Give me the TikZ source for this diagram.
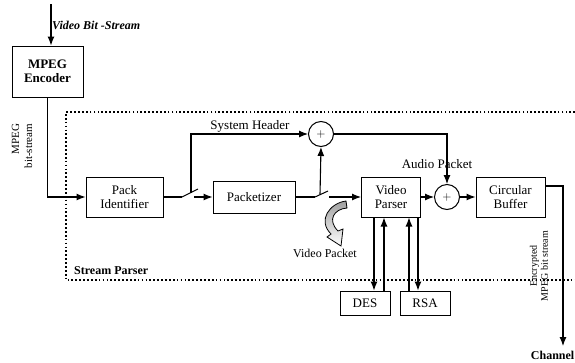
\documentclass[tikz,border=0pt]{standalone}
\usepackage{fontspec}
\setmainfont{Liberation Serif}
\usetikzlibrary{arrows.meta,calc,positioning}
\tikzset{
  block/.style={rectangle,draw,line width=1pt,font=\fontsize{13}{14}\selectfont,align=center,inner sep=1pt},
  adder/.style={circle,draw,line width=1pt,minimum size=25pt,inner sep=0pt,font=\fontsize{12}{12}\selectfont},
  wire/.style={draw,line width=1.1pt},
  flow/.style={wire,-{Latex[length=9pt,width=7pt]}},
  arm/.style={draw,line width=1pt},
  dotframe/.style={draw,line width=1.9pt,dash pattern=on 1.7pt off 2.2pt},
  lbl/.style={font=\fontsize{13}{14}\selectfont,inner sep=1pt},
  sidelbl/.style={font=\fontsize{11}{13}\selectfont,inner sep=1pt,rotate=90},
}
\begin{document}
\begin{tikzpicture}[x=1pt,y=-1pt]
  \useasboundingbox (0,0) rectangle (575,362);
  % stream parser frame
  \draw[dotframe] (575,112) -- (66,112) -- (66,280) -- (575,280);
  \node[font=\fontsize{12}{13}\selectfont\bfseries,anchor=west,inner sep=0pt] (spl) at (74,271) {Stream Parser};
  % blocks
  \node[block,font=\fontsize{13}{14}\selectfont\bfseries,minimum width=71pt,minimum height=51pt] (enc) at (47.5,71.5) {MPEG\\Encoder};
  \node[block,minimum width=77pt,minimum height=40pt] (pack) at (124.5,197) {Pack\\Identifier};
  \node[block,minimum width=82pt,minimum height=32pt] (pktz) at (254,197) {Packetizer};
  \node[block,minimum width=59pt,minimum height=40pt] (vp) at (391,197) {Video\\Parser};
  \node[block,minimum width=69pt,minimum height=40pt] (buf) at (510.5,197) {Circular\\Buffer};
  \node[block,minimum width=50pt,minimum height=24pt] (des) at (365,303) {DES};
  \node[block,minimum width=50pt,minimum height=24pt] (rsa) at (425,303) {RSA};
  \node[adder] (add1) at (321,134) {$+$};
  \node[adder] (add2) at (447,197) {$+$};
  % free ends
  \coordinate (src) at (51,4);
  \coordinate (sw1) at (182,197);
  \coordinate (sw1b) at (198,189);
  \coordinate (tap1) at (191,192.5);
  \coordinate (sw2) at (315,197);
  \coordinate (sw2b) at (328,191);
  \coordinate (tap2) at (320,194.5);
  \coordinate (out) at (563,186);
  \coordinate (chan) at (563,346);
  % connectors
  \draw[flow] (src) -- (src |- enc.north);
  \draw[flow] (enc.south) |- (pack.west);
  \draw[wire] (pack.east) -- (sw1);
  \draw[arm] (sw1) -- (sw1b);
  \draw[flow] (194,197) -- (pktz.west);
  \draw[flow] (tap1) |- (add1.west);
  \draw[wire] (pktz.east) -- (sw2);
  \draw[arm] (sw2) -- (sw2b);
  \draw[flow] (tap2) -- (add1.south);
  \draw[flow] (329,197) -- (vp.west);
  \draw[flow] (vp.east) -- (add2.west);
  \draw[flow] (add1.east) -| (add2.north);
  \draw[flow] (add2.east) -- (buf.west);
  \draw[flow] (buf.east |- out) -| (chan);
  \draw[flow] ([xshift=-17pt]vp.south) -- ([xshift=-17pt]vp.south |- des.north);
  \draw[flow] ([xshift=-7pt]vp.south |- des.north) -- ([xshift=-7pt]vp.south);
  \draw[flow] ([xshift=18pt]vp.south |- rsa.north) -- ([xshift=18pt]vp.south);
  \draw[flow] ([xshift=27pt]vp.south) -- ([xshift=27pt]vp.south |- rsa.north);
  % video packet icon
  \draw[line width=.8pt,top color=gray!75,bottom color=white]
    (346,201) .. controls (330,203) and (317,220) .. (331,234)
    -- (327,237) -- (341,246) -- (343,229) -- (338,231)
    .. controls (327,220) and (334,209) .. (347,208) -- cycle;
  % labels
  \node[font=\fontsize{12}{13}\selectfont\bfseries\itshape,anchor=west,inner sep=0pt] (vbs) at (52,25) {Video Bit -Stream};
  \node[sidelbl,align=right] (mbs) at (22,146) {MPEG\\bit-stream};
  \node[lbl] (shl) at (250,126) {System Header};
  \node[lbl] (apl) at (437,164) {Audio Packet};
  \node[lbl,font=\fontsize{12}{13}\selectfont] (vpl) at (325,253) {Video Packet};
  \node[sidelbl,align=center,font=\fontsize{10}{11}\selectfont] (ebs) at (539,266) {Encrypted\\MPEG bit stream};
  \node[font=\fontsize{12}{13}\selectfont\bfseries,inner sep=0pt,anchor=east] (chl) at (574.5,355) {Channel};
\end{tikzpicture}
\end{document}
